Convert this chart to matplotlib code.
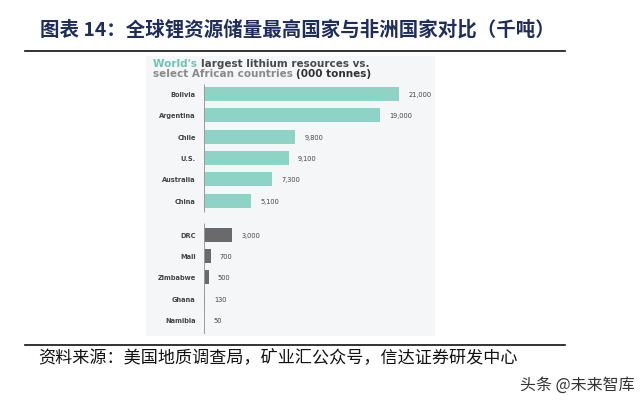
import matplotlib.pyplot as plt
from matplotlib.patches import Rectangle
from matplotlib.lines import Line2D

# data
countries = ['Bolivia', 'Argentina', 'Chile', 'U.S.', 'Australia', 'China',
             'DRC', 'Mali', 'Zimbabwe', 'Ghana', 'Namibia']
resources = [21000, 19000, 9800, 9100, 7300, 5100, 3000, 700, 500, 130, 50]
is_african = [False] * 6 + [True] * 5

title = '图表 14：全球锂资源储量最高国家与非洲国家对比（千吨）'
source = '资料来源：美国地质调查局，矿业汇公众号，信达证券研发中心'
watermark = '头条 @未来智库'

teal = '#8dd3c6'
dark = '#6a6a6a'
navy = '#1f2d5c'

# row positions: a gap between the top six and the African countries
ypos = [i if i < 6 else i + 0.6 for i in range(len(countries))]

fig = plt.figure(figsize=(6.4, 4.06), dpi=100)
W, H = 640, 406


def fx(px):
    return px / W


def fy(py):
    return 1 - py / H


# inner picture panel (behind the axes)
fig.patches.append(Rectangle((fx(146), fy(337)), fx(435) - fx(146), fy(57) - fy(337),
                             transform=fig.transFigure, facecolor='#f4f6f8',
                             edgecolor='none', zorder=-1))

# rules above and below the chart
fig.lines.append(Line2D([fx(25), fx(565)], [fy(52), fy(52)], transform=fig.transFigure,
                        color='#111111', linewidth=1.2))
fig.lines.append(Line2D([fx(25), fx(565)], [fy(346), fy(346)], transform=fig.transFigure,
                        color='#111111', linewidth=1.2))

cjk = ['Noto Sans CJK SC', 'DejaVu Sans']
fig.text(fx(40), fy(30), title, family=cjk, fontsize=14, fontweight='bold',
         color=navy, va='center', ha='left')
fig.text(fx(38), fy(357), source, family=cjk, fontsize=12.3, style='italic',
         color='#111111', va='center', ha='left')
fig.text(fx(635), fy(385), watermark, family=cjk, fontsize=11.5,
         color='#333333', va='center', ha='right')

# bar axes
ax = fig.add_axes([fx(204), fy(335), fx(430) - fx(204), fy(85) - fy(335)])
ax.set_facecolor('none')
colors = [dark if a else teal for a in is_african]
ax.barh(ypos, resources, height=0.66, color=colors, zorder=2)
ax.set_xlim(0, 21000 * 226 / 195)
ax.set_ylim(10.6 + 14 / 21.3, -10 / 21.3)

# subtitle of the inner picture
t1 = fig.text(fx(153), fy(67), "World's ", fontsize=7.5, fontweight='bold',
              color='#6fc3b5', va='baseline', ha='left')
ax.annotate('largest lithium resources vs.', xy=(1, 0), xycoords=t1,
            fontsize=7.5, fontweight='bold', color='#4a4a4a', va='bottom',
            ha='left', annotation_clip=False)
t2 = fig.text(fx(153), fy(77), 'select African countries ', fontsize=7.5,
              fontweight='bold', color='#8a8a8a', va='baseline', ha='left')
ax.annotate('(000 tonnes)', xy=(1, 0), xycoords=t2, fontsize=7.5,
            fontweight='bold', color='#333333', va='bottom', ha='left',
            annotation_clip=False)

for y, v in zip(ypos, resources):
    ax.text(v + 1000, y, f'{v:,}', fontsize=4.8, color='#444444',
            va='center', ha='left')
for y, name in zip(ypos, countries):
    ax.text(-900, y, name, fontsize=4.8, color='#444444', fontweight='bold',
            va='center', ha='right')

ax.vlines(0, -10 / 21.3, 5.55, color='#9a9a9a', linewidth=0.7, zorder=3)
ax.vlines(0, 6.05, 10.6 + 14 / 21.3, color='#9a9a9a', linewidth=0.7, zorder=3)

for s in ax.spines.values():
    s.set_visible(False)
ax.set_xticks([])
ax.set_yticks([])

fig.savefig('out.png', dpi=100)
